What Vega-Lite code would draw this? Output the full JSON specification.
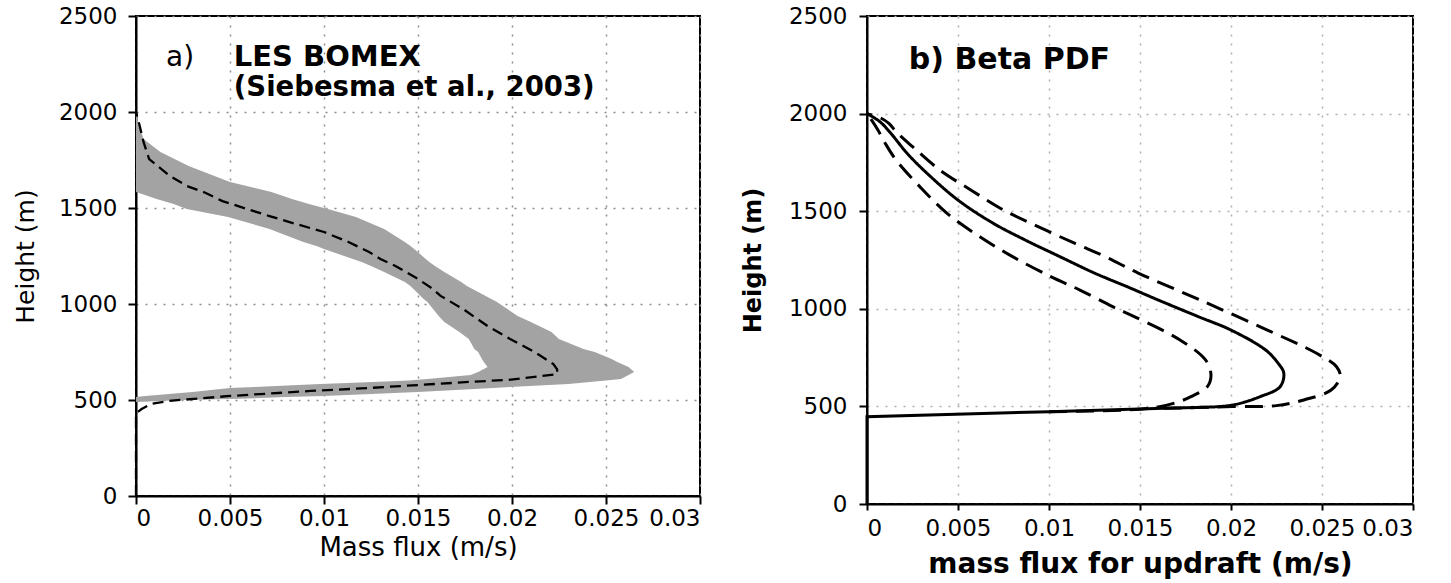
{
  "$schema": "https://vega.github.io/schema/vega-lite/v6.json",
  "background": "white",
  "padding": {"left": 12, "top": 4, "right": 5, "bottom": 0},
  "bounds": "flush",
  "spacing": 167,
  "config": {
    "view": {"stroke": "black", "strokeWidth": 2},
    "axis": {
      "labelFont": "DejaVu Sans",
      "labelFontSize": 23,
      "labelColor": "black",
      "titleFont": "DejaVu Sans",
      "titleColor": "black",
      "tickColor": "black",
      "tickWidth": 2,
      "tickSize": 8,
      "domainColor": "black",
      "domainWidth": 2,
      "grid": true,
      "gridDash": [2, 7],
      "gridColor": "#8c8c8c",
      "gridWidth": 1.5,
      "zindex": 1
    }
  },
  "datasets": {
    "bomex_band": [
      {"height": 490, "flux_lo": 0, "flux_hi": 0},
      {"height": 500, "flux_lo": 0, "flux_hi": 0.0025},
      {"height": 505, "flux_lo": 0, "flux_hi": 0.005},
      {"height": 515, "flux_lo": 0, "flux_hi": 0.008},
      {"height": 521, "flux_lo": 0.0005, "flux_hi": 0.01},
      {"height": 542, "flux_lo": 0.003, "flux_hi": 0.015},
      {"height": 562, "flux_lo": 0.005, "flux_hi": 0.019},
      {"height": 568, "flux_lo": 0.0063, "flux_hi": 0.0199},
      {"height": 583, "flux_lo": 0.0098, "flux_hi": 0.023},
      {"height": 592, "flux_lo": 0.0123, "flux_hi": 0.024},
      {"height": 601, "flux_lo": 0.0145, "flux_hi": 0.025},
      {"height": 609, "flux_lo": 0.0155, "flux_hi": 0.0258},
      {"height": 630, "flux_lo": 0.0178, "flux_hi": 0.0262},
      {"height": 646, "flux_lo": 0.0182, "flux_hi": 0.0265},
      {"height": 672, "flux_lo": 0.0187, "flux_hi": 0.0262},
      {"height": 698, "flux_lo": 0.0185, "flux_hi": 0.0256},
      {"height": 714, "flux_lo": 0.0184, "flux_hi": 0.0253},
      {"height": 750, "flux_lo": 0.0182, "flux_hi": 0.0244},
      {"height": 766, "flux_lo": 0.018, "flux_hi": 0.0238},
      {"height": 818, "flux_lo": 0.0177, "flux_hi": 0.0225},
      {"height": 854, "flux_lo": 0.0172, "flux_hi": 0.0221},
      {"height": 906, "flux_lo": 0.0164, "flux_hi": 0.021},
      {"height": 938, "flux_lo": 0.0161, "flux_hi": 0.0203},
      {"height": 1010, "flux_lo": 0.0155, "flux_hi": 0.0192},
      {"height": 1026, "flux_lo": 0.0153, "flux_hi": 0.0189},
      {"height": 1094, "flux_lo": 0.0146, "flux_hi": 0.0176},
      {"height": 1115, "flux_lo": 0.0143, "flux_hi": 0.0173},
      {"height": 1167, "flux_lo": 0.0132, "flux_hi": 0.0164},
      {"height": 1198, "flux_lo": 0.0125, "flux_hi": 0.0159},
      {"height": 1219, "flux_lo": 0.012, "flux_hi": 0.0156},
      {"height": 1286, "flux_lo": 0.01, "flux_hi": 0.0148},
      {"height": 1302, "flux_lo": 0.0096, "flux_hi": 0.0146},
      {"height": 1323, "flux_lo": 0.0089, "flux_hi": 0.0143},
      {"height": 1391, "flux_lo": 0.0071, "flux_hi": 0.0132},
      {"height": 1453, "flux_lo": 0.0049, "flux_hi": 0.0117},
      {"height": 1495, "flux_lo": 0.0027, "flux_hi": 0.0102},
      {"height": 1521, "flux_lo": 0.002, "flux_hi": 0.0092},
      {"height": 1547, "flux_lo": 0.0011, "flux_hi": 0.0083},
      {"height": 1583, "flux_lo": 0, "flux_hi": 0.0072},
      {"height": 1635, "flux_lo": 0, "flux_hi": 0.005},
      {"height": 1719, "flux_lo": 0, "flux_hi": 0.0028},
      {"height": 1792, "flux_lo": 0, "flux_hi": 0.0013},
      {"height": 1859, "flux_lo": 0, "flux_hi": 0.0004},
      {"height": 1950, "flux_lo": 0, "flux_hi": 0.0001},
      {"height": 2000, "flux_lo": 0, "flux_hi": 0}
    ],
    "bomex_mean": [
      {"height": 0, "flux": 0},
      {"height": 430, "flux": 0},
      {"height": 453, "flux": 0.0003},
      {"height": 479, "flux": 0.0008},
      {"height": 495, "flux": 0.0017},
      {"height": 521, "flux": 0.005},
      {"height": 547, "flux": 0.0093},
      {"height": 562, "flux": 0.0123},
      {"height": 578, "flux": 0.015},
      {"height": 594, "flux": 0.0177},
      {"height": 605, "flux": 0.0198},
      {"height": 620, "flux": 0.0212},
      {"height": 635, "flux": 0.0224},
      {"height": 660, "flux": 0.0224},
      {"height": 687, "flux": 0.0222},
      {"height": 750, "flux": 0.0212},
      {"height": 818, "flux": 0.0199},
      {"height": 885, "flux": 0.0187},
      {"height": 974, "flux": 0.0174},
      {"height": 1042, "flux": 0.0162},
      {"height": 1078, "flux": 0.0158},
      {"height": 1130, "flux": 0.015},
      {"height": 1198, "flux": 0.0138},
      {"height": 1234, "flux": 0.013},
      {"height": 1271, "flux": 0.0124},
      {"height": 1323, "flux": 0.0113},
      {"height": 1375, "flux": 0.01},
      {"height": 1417, "flux": 0.0085},
      {"height": 1458, "flux": 0.0071},
      {"height": 1495, "flux": 0.0059},
      {"height": 1536, "flux": 0.0046},
      {"height": 1583, "flux": 0.0036},
      {"height": 1615, "flux": 0.0027},
      {"height": 1667, "flux": 0.0018},
      {"height": 1755, "flux": 0.0007},
      {"height": 1844, "flux": 0.0004},
      {"height": 1927, "flux": 0.0002},
      {"height": 2000, "flux": 0}
    ],
    "beta_base": [
      {"height": 0, "flux": 0},
      {"height": 447, "flux": 0},
      {"height": 473, "flux": 0.01},
      {"height": 490, "flux": 0.0163},
      {"height": 496, "flux": 0.0187}
    ],
    "beta_pdf": [
      {"curve": "mean", "height": 496, "flux": 0.0187},
      {"curve": "mean", "height": 507, "flux": 0.0201},
      {"curve": "mean", "height": 550, "flux": 0.0216},
      {"curve": "mean", "height": 601, "flux": 0.0227},
      {"curve": "mean", "height": 671, "flux": 0.0229},
      {"curve": "mean", "height": 720, "flux": 0.0226},
      {"curve": "mean", "height": 789, "flux": 0.0219},
      {"curve": "mean", "height": 891, "flux": 0.02},
      {"curve": "mean", "height": 960, "flux": 0.0182},
      {"curve": "mean", "height": 1045, "flux": 0.016},
      {"curve": "mean", "height": 1113, "flux": 0.0143},
      {"curve": "mean", "height": 1183, "flux": 0.0125},
      {"curve": "mean", "height": 1267, "flux": 0.0106},
      {"curve": "mean", "height": 1352, "flux": 0.0087},
      {"curve": "mean", "height": 1440, "flux": 0.0069},
      {"curve": "mean", "height": 1557, "flux": 0.005},
      {"curve": "mean", "height": 1694, "flux": 0.0033},
      {"curve": "mean", "height": 1797, "flux": 0.0022},
      {"curve": "mean", "height": 1900, "flux": 0.0013},
      {"curve": "mean", "height": 1959, "flux": 0.0007},
      {"curve": "mean", "height": 2000, "flux": 0},
      {"curve": "upper", "height": 490, "flux": 0.0163},
      {"curve": "upper", "height": 499, "flux": 0.0201},
      {"curve": "upper", "height": 504, "flux": 0.0225},
      {"curve": "upper", "height": 533, "flux": 0.024},
      {"curve": "upper", "height": 584, "flux": 0.0255},
      {"curve": "upper", "height": 652, "flux": 0.026},
      {"curve": "upper", "height": 703, "flux": 0.0258},
      {"curve": "upper", "height": 772, "flux": 0.0247},
      {"curve": "upper", "height": 891, "flux": 0.022},
      {"curve": "upper", "height": 1045, "flux": 0.0183},
      {"curve": "upper", "height": 1183, "flux": 0.0149},
      {"curve": "upper", "height": 1267, "flux": 0.0131},
      {"curve": "upper", "height": 1336, "flux": 0.0114},
      {"curve": "upper", "height": 1421, "flux": 0.0094},
      {"curve": "upper", "height": 1506, "flux": 0.0075},
      {"curve": "upper", "height": 1609, "flux": 0.0057},
      {"curve": "upper", "height": 1711, "flux": 0.004},
      {"curve": "upper", "height": 1831, "flux": 0.0025},
      {"curve": "upper", "height": 1907, "flux": 0.0016},
      {"curve": "upper", "height": 1950, "flux": 0.0012},
      {"curve": "upper", "height": 1980, "flux": 0.0007},
      {"curve": "upper", "height": 2000, "flux": 0},
      {"curve": "lower", "height": 473, "flux": 0.01},
      {"curve": "lower", "height": 490, "flux": 0.0155},
      {"curve": "lower", "height": 520, "flux": 0.017},
      {"curve": "lower", "height": 550, "flux": 0.0178},
      {"curve": "lower", "height": 601, "flux": 0.0187},
      {"curve": "lower", "height": 661, "flux": 0.0189},
      {"curve": "lower", "height": 738, "flux": 0.0186},
      {"curve": "lower", "height": 840, "flux": 0.0172},
      {"curve": "lower", "height": 955, "flux": 0.0148},
      {"curve": "lower", "height": 1011, "flux": 0.0135},
      {"curve": "lower", "height": 1096, "flux": 0.0117},
      {"curve": "lower", "height": 1165, "flux": 0.0101},
      {"curve": "lower", "height": 1267, "flux": 0.008},
      {"curve": "lower", "height": 1369, "flux": 0.0062},
      {"curve": "lower", "height": 1489, "flux": 0.0044},
      {"curve": "lower", "height": 1626, "flux": 0.0029},
      {"curve": "lower", "height": 1762, "flux": 0.0016},
      {"curve": "lower", "height": 1848, "flux": 0.001},
      {"curve": "lower", "height": 1916, "flux": 0.0006},
      {"curve": "lower", "height": 1960, "flux": 0.0003},
      {"curve": "lower", "height": 2000, "flux": 0}
    ]
  },
  "hconcat": [
    {
      "width": 564,
      "height": 480,
      "layer": [
        {
          "data": {"name": "bomex_band"},
          "mark": {"type": "area", "orient": "horizontal", "color": "#a3a3a3", "opacity": 1},
          "encoding": {
            "y": {
              "field": "height", "type": "quantitative",
              "scale": {"domain": [0, 2500], "nice": false},
              "axis": {"title": "Height (m)", "values": [0, 500, 1000, 1500, 2000, 2500], "format": "d", "titleFontSize": 25, "titleFontWeight": "normal", "titlePadding": 20, "labelPadding": 11}
            },
            "x": {
              "field": "flux_lo", "type": "quantitative", "stack": null,
              "scale": {"domain": [0, 0.03], "nice": false},
              "axis": {"title": "Mass flux (m/s)", "values": [0, 0.005, 0.01, 0.015, 0.02, 0.025, 0.03], "format": ".3~f", "titleFontSize": 26, "titleFontWeight": "normal", "titlePadding": 4, "labelPadding": 3}
            },
            "x2": {"field": "flux_hi"}
          }
        },
        {
          "data": {"name": "bomex_mean"},
          "mark": {"type": "line", "color": "black", "strokeWidth": 2.3, "strokeDash": [11, 6]},
          "encoding": {
            "y": {"field": "height", "type": "quantitative"},
            "x": {"field": "flux", "type": "quantitative"},
            "order": {"field": "height"}
          }
        },
        {
          "data": {"values": [{}]},
          "mark": {"type": "text", "align": "left", "baseline": "alphabetic", "font": "DejaVu Sans", "fontSize": 28, "color": "black"},
          "encoding": {
            "x": {"datum": 0.0016, "type": "quantitative"},
            "y": {"datum": 2240, "type": "quantitative"},
            "text": {"value": "a)"}
          }
        },
        {
          "data": {"values": [{}]},
          "mark": {"type": "text", "align": "left", "baseline": "alphabetic", "font": "DejaVu Sans", "fontWeight": "bold", "fontSize": 29, "color": "black"},
          "encoding": {
            "x": {"datum": 0.0052, "type": "quantitative"},
            "y": {"datum": 2240, "type": "quantitative"},
            "text": {"value": "LES BOMEX"}
          }
        },
        {
          "data": {"values": [{}]},
          "mark": {"type": "text", "align": "left", "baseline": "alphabetic", "font": "DejaVu Sans", "fontWeight": "bold", "fontSize": 27.5, "color": "black"},
          "encoding": {
            "x": {"datum": 0.0052, "type": "quantitative"},
            "y": {"datum": 2083, "type": "quantitative"},
            "text": {"value": "(Siebesma et al., 2003)"}
          }
        }
      ]
    },
    {
      "width": 546,
      "height": 488,
      "layer": [
        {
          "data": {"name": "beta_base"},
          "mark": {"type": "line", "color": "black", "strokeWidth": 3},
          "encoding": {
            "y": {
              "field": "height", "type": "quantitative",
              "scale": {"domain": [0, 2500], "nice": false},
              "axis": {"title": "Height (m)", "values": [0, 500, 1000, 1500, 2000, 2500], "format": "d", "titleFontSize": 24, "titleFontWeight": "bold", "titlePadding": 23, "labelPadding": 12, "gridColor": "#b0b0b0"}
            },
            "x": {
              "field": "flux", "type": "quantitative",
              "scale": {"domain": [0, 0.03], "nice": false},
              "axis": {"title": "mass flux for updraft (m/s)", "values": [0, 0.005, 0.01, 0.015, 0.02, 0.025, 0.03], "format": ".3~f", "titleFontSize": 28, "titleFontWeight": "bold", "titlePadding": 10, "tickSize": 6, "labelPadding": 7, "gridColor": "#b0b0b0"}
            },
            "order": {"field": "height"}
          }
        },
        {
          "data": {"name": "beta_pdf"},
          "mark": {"type": "line", "color": "black", "strokeWidth": 3, "interpolate": "catmull-rom"},
          "encoding": {
            "y": {"field": "height", "type": "quantitative"},
            "x": {"field": "flux", "type": "quantitative"},
            "detail": {"field": "curve"},
            "strokeDash": {
              "field": "curve", "type": "nominal",
              "scale": {"domain": ["lower", "mean", "upper"], "range": [[18, 9], [1, 0], [18, 9]]},
              "legend": null
            },
            "order": {"field": "height"}
          }
        },
        {
          "data": {"values": [{}]},
          "mark": {"type": "text", "align": "left", "baseline": "alphabetic", "font": "DejaVu Sans", "fontWeight": "bold", "fontSize": 30, "color": "black"},
          "encoding": {
            "x": {"datum": 0.0023, "type": "quantitative"},
            "y": {"datum": 2229, "type": "quantitative"},
            "text": {"value": "b) Beta PDF"}
          }
        }
      ]
    }
  ]
}
